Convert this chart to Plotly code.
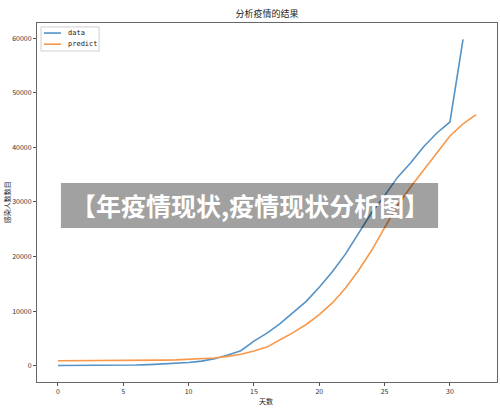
import plotly.graph_objects as go

# confirmed cases (blue line), one value per day
data_vals = [41, 41, 41, 41, 45, 62, 121, 198, 291, 440, 571, 830, 1287, 1975, 2744, 4515,
             5974, 7711, 9692, 11791, 14380, 17205, 20438, 24324, 28018, 31161, 34546,
             37198, 40171, 42638, 44653, 59804]
days_data = list(range(len(data_vals)))

# model prediction (orange line)
predict_vals = [900, 900, 900, 905, 910, 920, 940, 970, 1010, 1070, 1150, 1260, 1420, 1700,
                2100, 2700, 3400, 4750, 6050, 7550, 9350, 11500, 14200, 17450, 21100, 25300,
                29400, 32800, 35900, 39000, 42100, 44300, 46000]
days_pred = list(range(len(predict_vals)))

series_names = ["data", "predict"]
series_colors = ["#5592c6", "#f7984a"]

title_text = "分析疫情的结果"
x_title = "天数"
y_title = "感染人数数目"
banner_text = "【年疫情现状,疫情现状分析图】"

cjk = "Noto Sans CJK SC"

fig = go.Figure()
fig.add_trace(go.Scatter(x=days_data, y=data_vals, mode="lines", name=series_names[0],
                         line=dict(color=series_colors[0], width=1.6)))
fig.add_trace(go.Scatter(x=days_pred, y=predict_vals, mode="lines", name=series_names[1],
                         line=dict(color=series_colors[1], width=1.6)))

axis_style = dict(showline=True, linecolor="#666666", linewidth=1, mirror=True,
                  showgrid=False, zeroline=False, ticks="outside", ticklen=3,
                  tickcolor="#555555", automargin=False,
                  tickfont=dict(family=cjk, size=7, color="#333333"))

fig.update_layout(
    width=500, height=413,
    margin=dict(l=37, r=3, t=23, b=31),
    paper_bgcolor="white", plot_bgcolor="white",
    title=dict(text=title_text, x=0.534, xanchor="center", y=0.966, yanchor="middle",
               font=dict(family=cjk, size=9, color="#222222")),
    xaxis=dict(range=[-1.6, 33.6], tick0=0, dtick=5, **axis_style),
    yaxis=dict(range=[-2990, 62790], tick0=0, dtick=10000, tickformat="d", **axis_style),
    showlegend=False,
)

# axis titles
fig.add_annotation(text=x_title, xref="paper", yref="paper", x=0.498, y=-0.053,
                   xanchor="center", yanchor="middle", showarrow=False,
                   font=dict(family=cjk, size=7, color="#222222"))
fig.add_annotation(text=y_title, xref="paper", yref="paper", x=-0.065, y=0.501,
                   xanchor="center", yanchor="middle", textangle=-90, showarrow=False,
                   font=dict(family=cjk, size=7, color="#222222"))

# legend box in the upper-left corner
fig.add_shape(type="rect", xref="paper", yref="paper", x0=0.0087, x1=0.135,
              y0=0.922, y1=0.989, fillcolor="white", line=dict(color="#d0d0d0", width=1))
for i, (nm, col) in enumerate(zip(series_names, series_colors)):
    yy = 0.972 - i * 0.031
    fig.add_shape(type="line", xref="paper", yref="paper", x0=0.0152, x1=0.0522,
                  y0=yy, y1=yy, line=dict(color=col, width=1.6))
    fig.add_annotation(text=nm, xref="paper", yref="paper", x=0.063, y=yy,
                       xanchor="left", yanchor="middle", showarrow=False,
                       font=dict(family="DejaVu Sans Mono", size=7, color="#222222"))

# grey banner overlay
fig.add_shape(type="rect", xref="paper", yref="paper",
              x0=0.052, x1=0.872, y0=0.429, y1=0.554,
              fillcolor="rgba(0,0,0,0.37)", line=dict(width=0), layer="above")
fig.add_annotation(text="<b>" + banner_text + "</b>", xref="paper", yref="paper",
                   x=0.463, y=0.492, xanchor="center", yanchor="middle", showarrow=False,
                   font=dict(family=cjk, size=25, color="white"))

# drop the default 8px page margin so the figure fills the window
fig.write_html("out.html", config={"displayModeBar": False},
               post_script="document.body.style.margin='0';")
